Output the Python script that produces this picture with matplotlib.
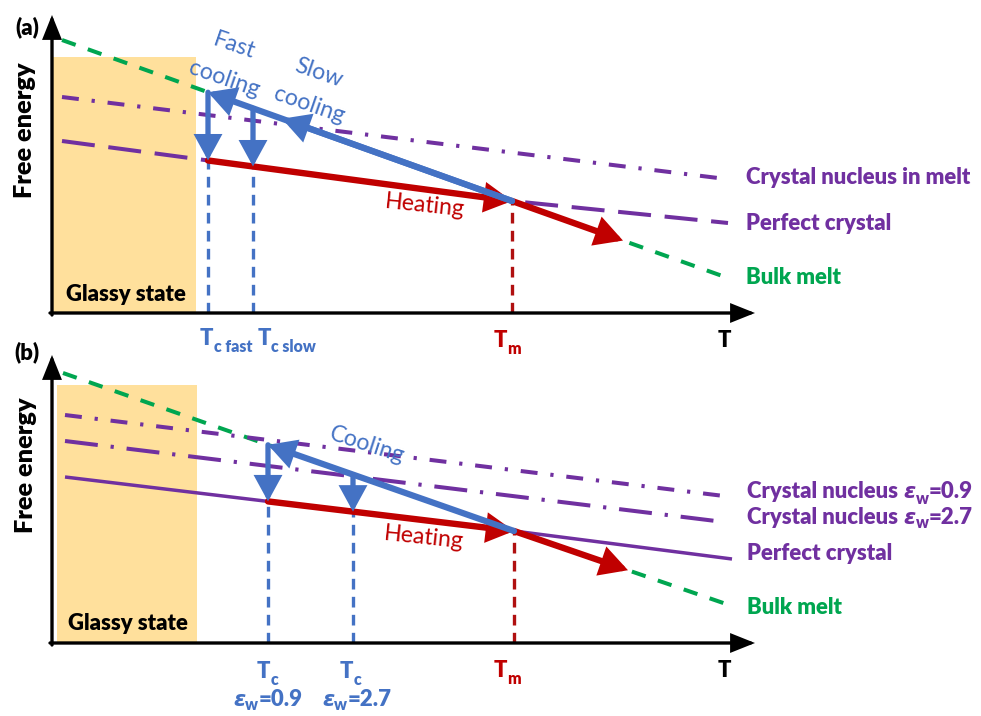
import numpy as np
import matplotlib
matplotlib.use('Agg')
import matplotlib.pyplot as plt
from matplotlib import font_manager as fm
from matplotlib.patches import Rectangle


def has_bold(name):
    for f in fm.fontManager.ttflist:
        w = f.weight if isinstance(f.weight, int) else fm.weight_dict.get(f.weight, 400)
        if f.name == name and 600 <= w <= 900:
            return True
    return False


FAMILY = next((n for n in ['Lato', 'Open Sans', 'Noto Sans', 'Roboto'] if has_bold(n)), 'DejaVu Sans')
plt.rcParams['font.family'] = [FAMILY, 'DejaVu Sans']
BOLD = 'heavy'

# colours
BLUE = '#4472C4'
RED = '#C00000'
GREEN = '#00A650'
PURPLE = '#7030A0'
GLASS = '#FFE09C'

# ---- panel (a) data (temperature T, free energy G, arbitrary units) ----
a_bulk_T = [1.0, 46.0, 67.6]
a_bulk_G = [27.3, 11.2, 3.5]
a_nuc_T = [1.0, 66.6]
a_nuc_G = [21.6, 13.5]
a_cryst_T = [1.0, 46.0, 67.6]
a_cryst_G = [17.2, 11.2, 9.0]
a_Tc = [15.6, 20.1]          # fast, slow cooling
a_Tm = 46.0
a_mid_head = 23.0            # second head on the cooling arrow
a_heat_end = 57.1
a_glass = [14.4, 25.6]       # glassy region: T max, G max

# ---- panel (b) data ----
b_bulk_T = [1.1, 46.2, 68.0]
b_bulk_G = [27.0, 11.2, 3.7]
b_nuc09_T = [1.3, 67.2]
b_nuc09_G = [22.8, 14.7]
b_nuc27_T = [1.3, 67.2]
b_nuc27_G = [20.2, 12.1]
b_cryst_T = [1.3, 46.2, 68.0]
b_cryst_G = [16.6, 11.2, 8.4]
b_Tc = [21.6, 30.1]          # eps_w = 0.9, 2.7
b_Tm = 46.2
b_heat_end = 57.6
b_glass = [14.5, 25.8]

fig = plt.figure(figsize=(9.81, 7.16), dpi=100)
ax_a = fig.add_axes([0, 371 / 716, 1, 345 / 716])
ax_b = fig.add_axes([0, 0, 1, 371 / 716])
ax_a.set_xlim(-5.2, 92.9)
ax_a.set_ylim(-3.2, 31.3)
ax_b.set_xlim(-5.2, 92.9)
ax_b.set_ylim(-7.3, 29.8)
for ax in (ax_a, ax_b):
    ax.axis('off')

# size the labels so that "Perfect crystal" is about as wide as in the original
rend = fig.canvas.get_renderer()
_t = fig.text(0, 0, 'Perfect crystal', fontsize=10, fontweight=BOLD)
LAB = 10 * 146 / _t.get_window_extent(rend).width
_t.remove()
_t = fig.text(0, 0, 'Free energy', fontsize=10, fontweight=BOLD)
FE = 10 * 136 / _t.get_window_extent(rend).width
_t.remove()
_t = fig.text(0, 0, 'Heating', fontsize=10)
REG = 10 * 80 / _t.get_window_extent(rend).width
_t.remove()
SUB = LAB * 0.72


def arrow(ax, x0, y0, x1, y1, color, lw=4.5, ms=24, hl=0.55, hw=0.3, z=5):
    ax.annotate('', xy=(x1, y1), xytext=(x0, y0), zorder=z,
                arrowprops=dict(arrowstyle='-|>,head_length=%s,head_width=%s' % (hl, hw),
                                color=color, lw=lw, mutation_scale=ms,
                                shrinkA=0, shrinkB=0, joinstyle='miter'))


def curve(ax, T, G, color, lw=2.9, dashes=None, z=2):
    ls = '-' if dashes is None else (0, dashes)
    ax.plot(T, G, color=color, lw=lw, ls=ls, solid_capstyle='butt',
            dash_capstyle='butt', zorder=z)


def seq_text(ax, x, y, parts):
    # place text pieces one after another on a common baseline
    inv = ax.transData.inverted()
    for s, dy, kw in parts:
        t = ax.text(x, y + dy, s, ha='left', va='baseline', **kw)
        bb = t.get_window_extent(renderer=rend)
        x = inv.transform((bb.x1, bb.y0))[0]


def axes_arrows(ax, xmax, ymax):
    arrow(ax, -0.2, 0, xmax, 0, 'black', lw=2.4, ms=18, hl=0.75, hw=0.3, z=6)
    arrow(ax, 0, -0.2, 0, ymax, 'black', lw=2.4, ms=18, hl=0.75, hw=0.3, z=6)


big_b = dict(fontsize=LAB, fontweight=BOLD)
sub_b = dict(fontsize=SUB, fontweight=BOLD)

# ================= panel (a) =================
ax = ax_a
bulk = lambda t: np.interp(t, a_bulk_T, a_bulk_G)
cryst = lambda t: np.interp(t, a_cryst_T, a_cryst_G)
Gm = bulk(a_Tm)

ax.add_patch(Rectangle((0.1, 0), a_glass[0] - 0.1, a_glass[1], color=GLASS, lw=0, zorder=0))
curve(ax, a_bulk_T, a_bulk_G, GREEN, dashes=(3.6, 3.2))
curve(ax, a_nuc_T, a_nuc_G, PURPLE, dashes=(4.2, 3.2, 0.8, 3.2))
curve(ax, a_cryst_T, a_cryst_G, PURPLE, dashes=(8.2, 3.4))

for tc in a_Tc:
    ax.plot([tc, tc], [0, cryst(tc)], color=BLUE, lw=2.4, ls=(0, (3.2, 2.2)), zorder=3)
ax.plot([a_Tm, a_Tm], [0, Gm], color='#B01010', lw=2.4, ls=(0, (3.2, 2.2)), zorder=3)

arrow(ax, a_Tc[0], cryst(a_Tc[0]), a_Tm, Gm, RED, lw=4.6, z=4)
arrow(ax, a_Tm, Gm, a_heat_end, bulk(a_heat_end), RED, lw=4.6, z=4)
arrow(ax, a_Tm, Gm, a_Tc[0], bulk(a_Tc[0]), BLUE)
arrow(ax, a_Tm, Gm, a_mid_head, bulk(a_mid_head), BLUE)
for tc in a_Tc:
    arrow(ax, tc, bulk(tc), tc, cryst(tc), BLUE, lw=3.8)

axes_arrows(ax, 70.3, 29.8)

ax.text(-2.5, 28.6, '(a)', ha='center', va='center', **big_b)
ax.text(-2.7, 18.3, 'Free energy', rotation=90, ha='center', va='center',
        fontsize=FE, fontweight=BOLD)
ax.text(7.4, 1.8, 'Glassy state', ha='center', va='center', **big_b)
ax.text(18.2, 26.7, 'Fast', rotation=-19, ha='center', va='center', fontsize=REG, color=BLUE)
ax.text(17.2, 23.4, 'cooling', rotation=-19, ha='center', va='center', fontsize=REG, color=BLUE)
ax.text(26.7, 24.0, 'Slow', rotation=-19, ha='center', va='center', fontsize=REG, color=BLUE)
ax.text(25.7, 20.8, 'cooling', rotation=-19, ha='center', va='center', fontsize=REG, color=BLUE)
ax.text(37.3, 10.7, 'Heating', rotation=-6, ha='center', va='center', fontsize=REG, color=RED)
ax.text(69.4, 13.5, 'Crystal nucleus in melt', ha='left', va='center', color=PURPLE, **big_b)
ax.text(69.4, 8.9, 'Perfect crystal', ha='left', va='center', color=PURPLE, **big_b)
ax.text(69.4, 3.5, 'Bulk melt', ha='left', va='center', color=GREEN, **big_b)

seq_text(ax, 14.8, -3.2, [('T', 0, dict(color=BLUE, **big_b)),
                          ('c fast', -0.7, dict(color=BLUE, **sub_b))])
seq_text(ax, 20.6, -3.2, [('T', 0, dict(color=BLUE, **big_b)),
                          ('c slow', -0.7, dict(color=BLUE, **sub_b))])
seq_text(ax, 44.2, -3.4, [('T', 0, dict(color=RED, **big_b)),
                          ('m', -0.7, dict(color=RED, **sub_b))])
ax.text(66.6, -3.4, 'T', ha='left', va='baseline', **big_b)

# ================= panel (b) =================
ax = ax_b
bulk = lambda t: np.interp(t, b_bulk_T, b_bulk_G)
cryst = lambda t: np.interp(t, b_cryst_T, b_cryst_G)
nuc27 = lambda t: np.interp(t, b_nuc27_T, b_nuc27_G)
Gm = bulk(b_Tm)

ax.add_patch(Rectangle((0.5, 0), b_glass[0] - 0.5, b_glass[1], color=GLASS, lw=0, zorder=0))
curve(ax, b_bulk_T, b_bulk_G, GREEN, dashes=(3.6, 3.2))
curve(ax, b_nuc09_T, b_nuc09_G, PURPLE, dashes=(4.2, 3.2, 0.8, 3.2))
curve(ax, b_nuc27_T, b_nuc27_G, PURPLE, dashes=(8.2, 3.2, 0.8, 3.2))
curve(ax, b_cryst_T, b_cryst_G, PURPLE, lw=2.5)

for tc in b_Tc:
    ax.plot([tc, tc], [0, cryst(tc)], color=BLUE, lw=2.4, ls=(0, (3.2, 2.2)), zorder=3)
ax.plot([b_Tm, b_Tm], [0, Gm], color='#B01010', lw=2.4, ls=(0, (3.2, 2.2)), zorder=3)

arrow(ax, b_Tc[0], cryst(b_Tc[0]), b_Tm, Gm, RED, lw=4.6, z=4)
arrow(ax, b_Tm, Gm, b_heat_end, bulk(b_heat_end), RED, lw=4.6, z=4)
arrow(ax, b_Tm, Gm, b_Tc[0], bulk(b_Tc[0]), BLUE)
arrow(ax, b_Tc[0], bulk(b_Tc[0]), b_Tc[0], cryst(b_Tc[0]), BLUE, lw=3.8)
arrow(ax, b_Tc[1], nuc27(b_Tc[1]), b_Tc[1], cryst(b_Tc[1]), BLUE, lw=3.8)

axes_arrows(ax, 70.3, 28.8)

ax.text(-2.5, 29.1, '(b)', ha='center', va='center', **big_b)
ax.text(-2.6, 17.8, 'Free energy', rotation=90, ha='center', va='center',
        fontsize=FE, fontweight=BOLD)
ax.text(7.6, 2.0, 'Glassy state', ha='center', va='center', **big_b)
ax.text(31.5, 19.8, 'Cooling', rotation=-18, ha='center', va='center', fontsize=REG, color=BLUE)
ax.text(37.2, 10.5, 'Heating', rotation=-6, ha='center', va='center', fontsize=REG, color=RED)

eps = dict(fontsize=LAB, fontweight='bold', style='italic', family=['DejaVu Sans'])
for g, val in [(15.0, '0.9'), (12.5, '2.7')]:
    seq_text(ax, 69.5, g - 0.55, [('Crystal nucleus ', 0, dict(color=PURPLE, **big_b)),
                                  ('\u03b5', 0, dict(color=PURPLE, **eps)),
                                  ('w', -0.5, dict(color=PURPLE, **sub_b)),
                                  ('=' + val, 0, dict(color=PURPLE, **big_b))])
ax.text(69.5, 9.0, 'Perfect crystal', ha='left', va='center', color=PURPLE, **big_b)
ax.text(69.5, 3.5, 'Bulk melt', ha='left', va='center', color=GREEN, **big_b)

seq_text(ax, 20.5, -3.5, [('T', 0, dict(color=BLUE, **big_b)),
                          ('c', -0.7, dict(color=BLUE, **sub_b))])
seq_text(ax, 28.8, -3.5, [('T', 0, dict(color=BLUE, **big_b)),
                          ('c', -0.7, dict(color=BLUE, **sub_b))])
for x0, val in [(18.1, '0.9'), (27.0, '2.7')]:
    seq_text(ax, x0, -6.3, [('\u03b5', 0, dict(color=BLUE, **eps)),
                            ('w', -0.4, dict(color=BLUE, **sub_b)),
                            ('=' + val, 0, dict(color=BLUE, **big_b))])
seq_text(ax, 44.2, -3.4, [('T', 0, dict(color=RED, **big_b)),
                          ('m', -0.7, dict(color=RED, **sub_b))])
ax.text(66.6, -3.4, 'T', ha='left', va='baseline', **big_b)

fig.savefig('out.png', dpi=100)
